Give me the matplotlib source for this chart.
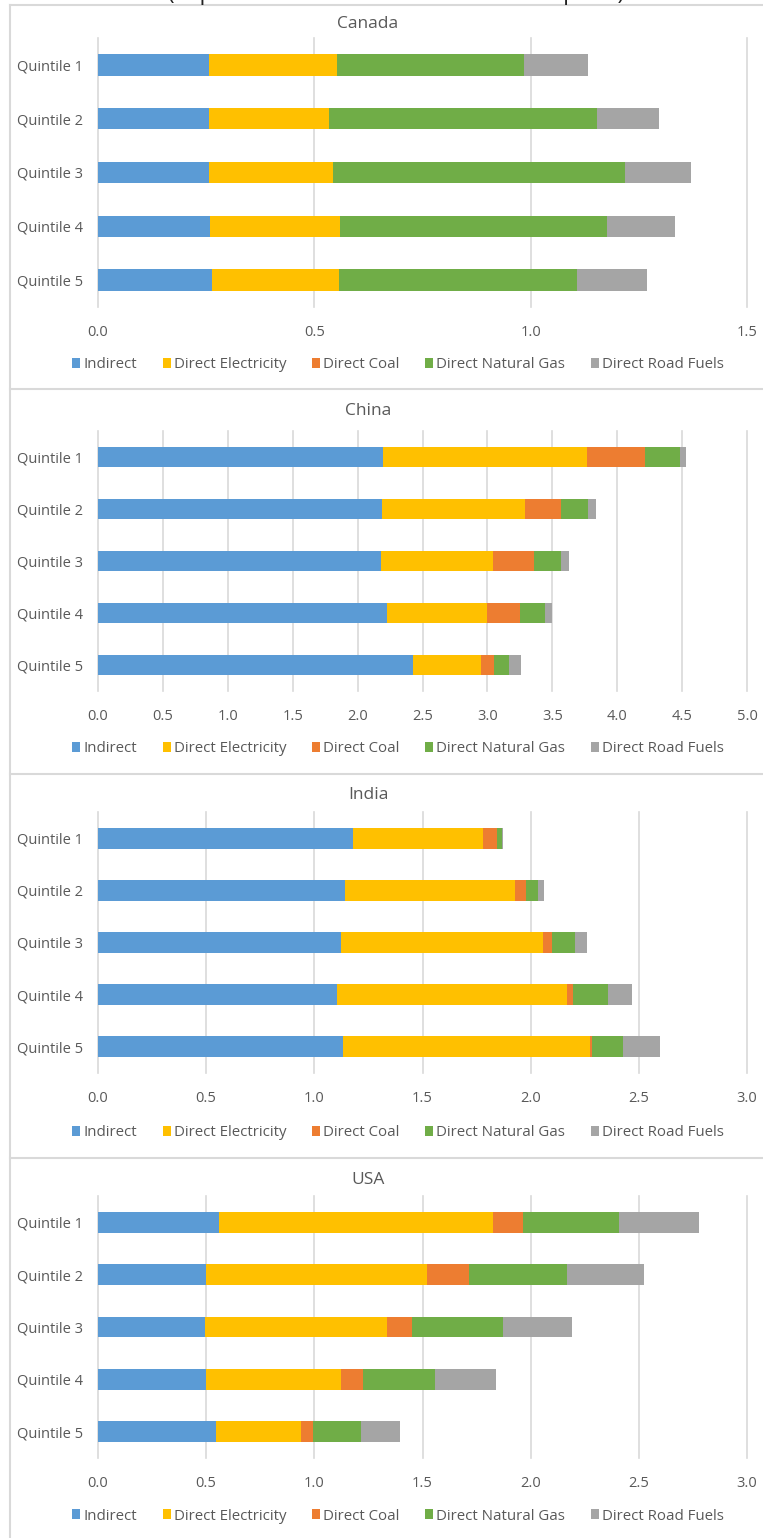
import numpy as np
import matplotlib.pyplot as plt
from matplotlib.lines import Line2D

plt.rcParams['font.family'] = ['Open Sans', 'DejaVu Sans']

quintiles = ['Quintile 1', 'Quintile 2', 'Quintile 3', 'Quintile 4', 'Quintile 5']
series = ['Indirect', 'Direct Electricity', 'Direct Coal', 'Direct Natural Gas', 'Direct Road Fuels']
colors = ['#5B9BD5', '#FFC000', '#ED7D31', '#70AD47', '#A5A5A5']

# rows = series, cols = quintile 1..5
canada = [[0.256, 0.256, 0.256, 0.259, 0.263],
          [0.297, 0.277, 0.286, 0.300, 0.294],
          [0.0, 0.0, 0.0, 0.0, 0.0],
          [0.432, 0.620, 0.676, 0.617, 0.551],
          [0.147, 0.144, 0.152, 0.158, 0.162]]

china = [[2.196, 2.189, 2.179, 2.223, 2.424],
         [1.573, 1.100, 0.867, 0.776, 0.525],
         [0.448, 0.275, 0.310, 0.249, 0.101],
         [0.265, 0.212, 0.208, 0.192, 0.117],
         [0.047, 0.057, 0.067, 0.060, 0.095]]

india = [[1.180, 1.144, 1.124, 1.106, 1.134],
         [0.601, 0.783, 0.934, 1.061, 1.140],
         [0.065, 0.050, 0.042, 0.028, 0.008],
         [0.020, 0.059, 0.105, 0.161, 0.143],
         [0.004, 0.026, 0.057, 0.113, 0.173]]

usa = [[0.559, 0.500, 0.494, 0.500, 0.545],
       [1.267, 1.023, 0.844, 0.622, 0.393],
       [0.137, 0.194, 0.114, 0.103, 0.057],
       [0.444, 0.452, 0.418, 0.334, 0.221],
       [0.369, 0.355, 0.323, 0.279, 0.178]]

W, H = 763, 1538
fig = plt.figure(figsize=(W / 100, H / 100), dpi=100)

txt = '#595959'
grid_c = '#D9D9D9'

# name, data, xmax, title y, plot top, plot bottom, legend y (pixels)
panels = [('Canada', canada, 1.5, 24, 38, 307, 363),
          ('China', china, 5.0, 411, 431, 691, 747),
          ('India', india, 3.0, 795, 812, 1073, 1131),
          ('USA', usa, 3.0, 1180, 1196, 1458, 1514)]

x0, x1 = 98, 747
for name, data, xmax, ty, top, bot, ly in panels:
    ax = fig.add_axes([x0 / W, 1 - bot / H, (x1 - x0) / W, (bot - top) / H])
    y = np.arange(len(quintiles))
    left = np.zeros(len(quintiles))
    handles = []
    for vals, lab, c in zip(data, series, colors):
        b = ax.barh(y, vals, left=left, height=0.4, color=c, label=lab, zorder=3)
        handles.append(b)
        left = left + np.array(vals)
    ax.set_xlim(0, xmax)
    ax.set_ylim(4.5, -0.5)
    ax.set_yticks(y)
    ax.set_yticklabels(quintiles)
    ticks = np.arange(0, xmax + 0.01, 0.5)
    ax.set_xticks(ticks)
    ax.set_xticklabels(['%.1f' % v for v in ticks])
    ax.tick_params(axis='both', length=0, labelsize=10.5, labelcolor=txt)
    ax.tick_params(axis='x', pad=13)
    ax.tick_params(axis='y', pad=10.5)
    for s in ax.spines.values():
        s.set_visible(False)
    ax.grid(axis='x', color=grid_c, linewidth=1.2, zorder=0)
    for gl in ax.get_xgridlines():
        gl.set_clip_on(False)
    fig.text(368 / W, 1 - ty / H, name, ha='center', va='center', fontsize=12.5, color=txt)
    fig.legend(handles, series, loc='center', bbox_to_anchor=(398 / W, 1 - (ly + 2) / H),
               ncol=5, frameon=False, fontsize=10.8, labelcolor=txt,
               handlelength=0.55, handleheight=0.6, handletextpad=0.2, columnspacing=1.7)

# cut-off heading at the very top
fig.text(396 / W, 1.0, '(in percent of total household consumption)', ha='center',
         va='baseline', fontsize=16, color='#222222')

# chart frames
for yy in [5, 389, 774, 1158]:
    fig.add_artist(Line2D([10 / W, 1], [1 - yy / H, 1 - yy / H], color=grid_c, linewidth=1.5))
fig.add_artist(Line2D([10 / W, 10 / W], [1 - 5 / H, 0], color=grid_c, linewidth=1.5))

fig.savefig('out.png', dpi=100)
